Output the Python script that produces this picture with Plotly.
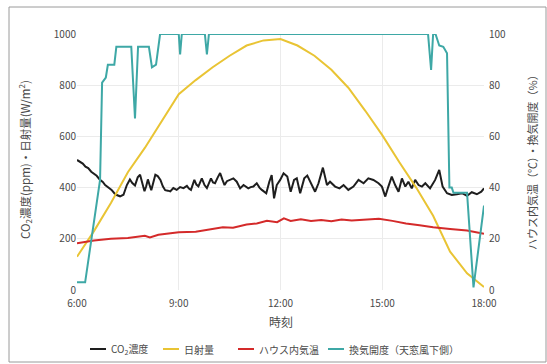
import plotly.graph_objects as go

# ---- data ----
co2_time = [6.00,6.08,6.17,6.25,6.33,6.42,6.50,6.58,6.68,6.76,6.83,6.93,7.02,7.10,7.17,7.27,7.37,7.47,7.56,7.63,
            7.71,7.79,7.86,7.93,7.99,8.04,8.09,8.14,8.19,8.25,8.31,8.38,8.46,8.53,8.60,8.68,8.75,8.84,8.94,9.04,
            9.14,9.24,9.30,9.36,9.46,9.52,9.58,9.68,9.76,9.83,9.89,9.95,10.01,10.07,10.15,10.22,10.29,10.35,10.42,10.51,
            10.61,10.71,10.81,10.91,11.05,11.12,11.20,11.30,11.38,11.45,11.58,11.67,11.74,11.81,11.89,11.99,12.09,12.20,12.30,12.40,
            12.48,12.58,12.70,12.79,12.89,13.02,13.12,13.25,13.37,13.46,13.61,13.74,13.86,14.00,14.15,14.30,14.45,14.59,14.74,14.89,
            14.99,15.09,15.18,15.28,15.38,15.48,15.58,15.68,15.77,15.87,15.97,16.07,16.17,16.27,16.41,16.56,16.68,16.78,16.91,17.05,
            17.20,17.35,17.50,17.64,17.79,17.92,18.00]
co2_ppm = [508,500,494,482,476,462,455,446,430,422,410,400,391,378,371,366,372,410,432,418,
           408,440,450,415,386,405,432,410,390,420,450,445,430,405,390,388,385,398,391,402,
           398,407,396,391,430,412,405,436,410,398,420,436,420,417,440,457,430,410,425,430,
           436,423,397,410,397,402,404,417,400,391,378,423,449,358,410,430,456,443,384,430,
           436,378,436,447,417,384,417,478,410,423,404,397,410,391,404,430,417,436,430,417,
           404,365,404,443,410,384,436,404,423,397,430,410,404,417,397,430,469,404,378,371,
           374,378,368,382,374,384,397]

solar_time = [6.0,6.5,7.0,7.5,8.0,8.5,9.0,9.5,10.0,10.5,11.0,11.5,12.0,12.5,13.0,13.5,14.0,14.5,15.0,15.5,16.0,16.5,17.0,17.5,18.0]
solar_wm2 = [130,230,340,460,555,660,765,820,870,915,955,975,980,955,915,860,790,700,605,500,400,290,150,65,12]

temp_time = [6.0,6.5,7.0,7.5,8.0,8.15,8.4,8.8,9.0,9.5,10.0,10.3,10.6,11.0,11.3,11.6,11.9,12.1,12.3,12.6,
             12.9,13.2,13.5,13.8,14.1,14.5,14.9,15.3,15.7,16.1,16.5,17.0,17.5,18.0]
temp_c = [18.3,19.3,20.0,20.3,21.2,20.5,21.6,22.4,22.6,22.8,24.0,24.5,24.3,25.6,26.0,27.0,26.5,28.0,27.0,27.6,
          27.0,27.3,26.9,27.5,27.1,27.4,27.8,27.0,26.0,25.3,24.5,23.8,23.2,22.0]

vent_time = [6.0,6.24,6.68,6.74,6.85,6.91,7.10,7.16,7.60,7.71,7.80,8.12,8.21,8.33,8.45,9.00,9.04,9.09,9.77,9.83,
             9.89,16.35,16.44,16.50,16.57,16.68,16.80,16.91,16.98,17.05,17.10,17.50,17.69,18.0]
vent_pct = [3,3,43,81,83,88,88,95,95,67,95,95,87,88,100,100,92,100,100,92,
            100,100,86,100,100,95.5,95,92.5,40,40,38,38,1,33]

series_names = ["CO<sub>2</sub>濃度", "日射量", "ハウス内気温", "換気開度（天窓風下側）"]
series_colors = ["#1e1e1e", "#e9c434", "#d42a2a", "#3ea8a6"]

x_ticks = [6, 9, 12, 15, 18]
x_labels = ["6:00", "9:00", "12:00", "15:00", "18:00"]

FONT = "Noto Sans CJK JP"
TXT = "#4a4a4a"

W, H = 547, 364
L, R, T, B = 77, 63, 34, 74
PW, PH = W - L - R, H - T - B


def px_x(p):
    return (p - L) / PW


def px_y(p):
    return (H - B - p) / PH


fig = go.Figure()
fig.add_trace(go.Scatter(x=co2_time, y=co2_ppm, mode="lines", name=series_names[0],
                         line=dict(color=series_colors[0], width=2)))
fig.add_trace(go.Scatter(x=solar_time, y=solar_wm2, mode="lines", name=series_names[1],
                         line=dict(color=series_colors[1], width=2)))
fig.add_trace(go.Scatter(x=temp_time, y=temp_c, mode="lines", name=series_names[2], yaxis="y2",
                         line=dict(color=series_colors[2], width=2)))
fig.add_trace(go.Scatter(x=vent_time, y=vent_pct, mode="lines", name=series_names[3], yaxis="y2",
                         line=dict(color=series_colors[3], width=2)))

# legend drawn as line keys + text (one row, spacing as in the reference)
legend_key_x = [90, 163, 238, 328]
legend_y = 349
shapes = [dict(type="rect", xref="paper", yref="paper",
               x0=px_x(9), x1=px_x(546), y0=px_y(362), y1=px_y(7),
               line=dict(color="#9a9a9a", width=1), layer="below")]
annotations = [
    dict(text="時刻", xref="paper", yref="paper", x=0.5, y=px_y(321),
         xanchor="center", yanchor="middle", showarrow=False, font=dict(size=12, color=TXT)),
    dict(text="CO<sub>2</sub>濃度(ppm)・日射量(W/m<sup>2</sup>)", xref="paper", yref="paper",
         x=px_x(25), y=px_y(160), xanchor="center", yanchor="middle",
         textangle=-90, showarrow=False, font=dict(size=11.5, color=TXT)),
    dict(text="ハウス内気温（℃）・換気開度（%）", xref="paper", yref="paper",
         x=px_x(532), y=px_y(160), xanchor="center", yanchor="middle",
         textangle=-90, showarrow=False, font=dict(size=11, color=TXT)),
]
for name, color, kx in zip(series_names, series_colors, legend_key_x):
    shapes.append(dict(type="line", xref="paper", yref="paper",
                       x0=px_x(kx), x1=px_x(kx + 16), y0=px_y(legend_y), y1=px_y(legend_y),
                       line=dict(color=color, width=2)))
    annotations.append(dict(text=name, xref="paper", yref="paper", x=px_x(kx + 19), y=px_y(legend_y),
                            xanchor="left", yanchor="middle", showarrow=False,
                            font=dict(size=10, color=TXT)))

fig.update_layout(
    width=W, height=H,
    margin=dict(l=L, r=R, t=T, b=B, autoexpand=False),
    paper_bgcolor="white", plot_bgcolor="white",
    font=dict(family=FONT, size=10, color=TXT),
    showlegend=False,
    xaxis=dict(range=[6, 18], tickvals=x_ticks, ticktext=x_labels, showgrid=True,
               gridcolor="#ebebeb", zeroline=False, showline=False, ticks="", automargin=False,
               ticklabelstandoff=6),
    yaxis=dict(range=[0, 1000], dtick=200, showgrid=True, gridcolor="#ebebeb", zeroline=False,
               showline=False, ticks="", automargin=False),
    yaxis2=dict(range=[0, 100], dtick=20, overlaying="y", side="right", showgrid=False, zeroline=False,
                showline=False, ticks="", automargin=False, ticklabelstandoff=4),
    annotations=annotations,
    shapes=shapes,
)

fig.write_html("out.html", config={"displayModeBar": False},
               post_script="document.body.style.margin='0';document.body.style.overflow='hidden';")
